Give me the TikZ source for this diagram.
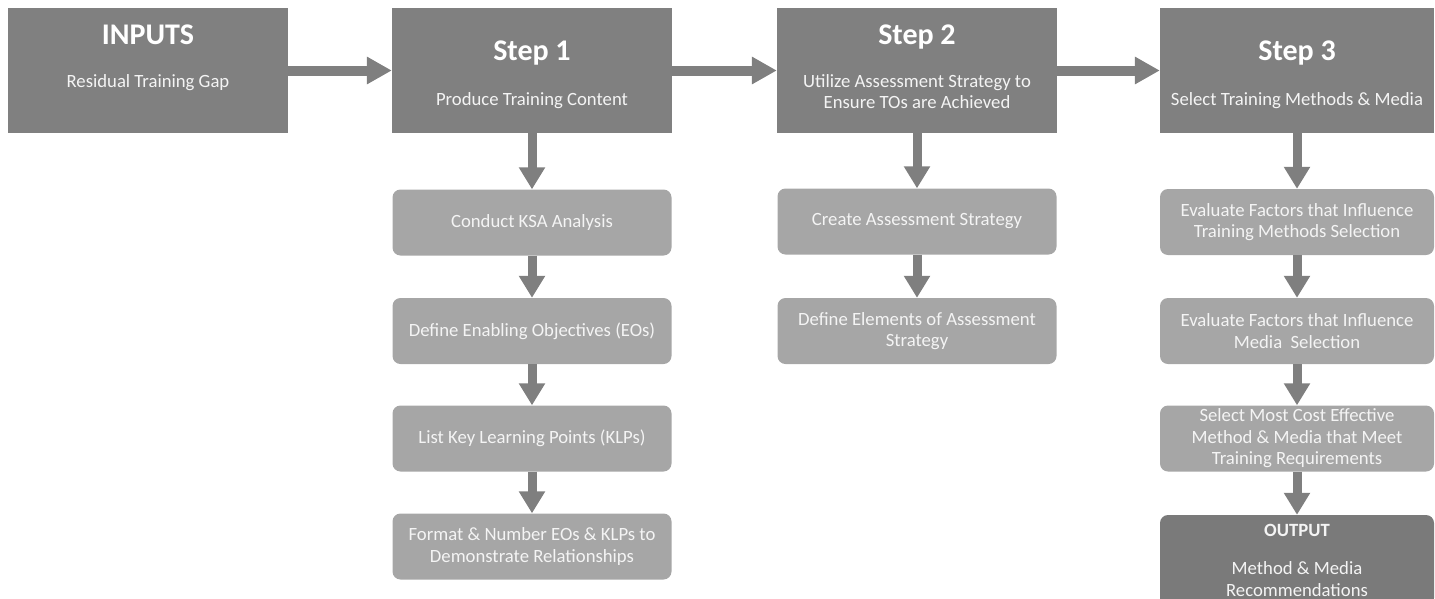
\documentclass[tikz,border=0pt]{standalone}
\usepackage{fontspec}
\setmainfont{Carlito}
\usetikzlibrary{arrows.meta}
\definecolor{hdr}{HTML}{808080}
\definecolor{subc}{HTML}{A6A6A6}
\definecolor{outc}{HTML}{7A7A7A}
\definecolor{arrc}{HTML}{7F7F7F}
\definecolor{txtc}{HTML}{F4F4F4}
\tikzset{
  hbox/.style={fill=hdr, draw=none, inner sep=0pt, minimum width=280pt, minimum height=125pt},
  sbox/.style={fill=subc, draw=none, rounded corners=8pt, inner sep=0pt, minimum width=279pt, minimum height=66pt,
    text=txtc, align=center, font=\fontsize{18.7}{21.5}\selectfont},
  obox/.style={fill=outc, draw=none, rounded corners=8pt, inner sep=0pt, minimum width=274pt, minimum height=91pt},
  ttl/.style={text=white, inner sep=0pt, font=\fontsize{30}{36}\selectfont\bfseries},
  stl/.style={text=txtc, inner sep=0pt, align=center, font=\fontsize{18.7}{21.5}\selectfont},
  harr/.style={draw=arrc, line width=10pt, -{Triangle[width=26pt,length=25pt]}},
  varr/.style={draw=arrc, line width=9pt, -{Triangle[width=25pt,length=22pt]}},
}
\begin{document}
\begin{tikzpicture}[x=1pt,y=-1pt]
\clip (0,0) rectangle (1435,598);
% header boxes
\node[hbox] (in) at (148,70.5) {};
\node[hbox] (s1) at (532,70.5) {};
\node[hbox] (s2) at (917,70.5) {};
\node[hbox, minimum width=274pt] (s3) at (1297,70.5) {};
\node[ttl] (inT) at (148,35) {INPUTS};
\node[stl] (inS) at (148,83) {Residual Training Gap};
\node[ttl] (s1T) at (532,53) {Step 1};
\node[stl] (s1S) at (532,101) {Produce Training Content};
\node[ttl] (s2T) at (917,37) {Step 2};
\node[stl] (s2S) at (917,91.5) {Utilize Assessment Strategy to\\Ensure TOs are Achieved};
\node[ttl] (s3T) at (1297,53) {Step 3};
\node[stl] (s3S) at (1297,101) {Select Training Methods \& Media};
% step 1 column
\node[sbox] (a1) at (532,222.5) {Conduct KSA Analysis};
\node[sbox] (a2) at (532,331) {Define Enabling Objectives (EOs)};
\node[sbox] (a3) at (532,438.5) {List Key Learning Points (KLPs)};
\node[sbox] (a4) at (532,546.5) {Format \& Number EOs \& KLPs to\\Demonstrate Relationships};
% step 2 column
\node[sbox] (b1) at (917,221.5) {Create Assessment Strategy};
\node[sbox] (b2) at (917,331) {Define Elements of Assessment\\Strategy};
% step 3 column
\node[sbox, minimum width=274pt] (c1) at (1297,222) {Evaluate Factors that Influence\\Training Methods Selection};
\node[sbox, minimum width=274pt] (c2) at (1297,331) {Evaluate Factors that Influence\\Media\ \ Selection};
\node[sbox, minimum width=274pt] (c3) at (1297,438.5) {Select Most Cost Effective\\Method \& Media that Meet\\Training Requirements};
\node[obox] (out) at (1297,560.5) {};
\node[text=txtc, inner sep=0pt, font=\fontsize{18.7}{21.5}\selectfont\bfseries] (outT) at (1297,530) {OUTPUT};
\node[stl] (outS) at (1297,579) {Method \& Media\\Recommendations};
% connectors
\draw[harr] (in) -- (s1);
\draw[harr] (s1) -- (s2);
\draw[harr] (s2) -- (s3);
\draw[varr] (s1) -- (a1);
\draw[varr] (a1) -- (a2);
\draw[varr] (a2) -- (a3);
\draw[varr] (a3) -- (a4);
\draw[varr] (s2) -- (b1);
\draw[varr] (b1) -- (b2);
\draw[varr] (s3) -- (c1);
\draw[varr] (c1) -- (c2);
\draw[varr] (c2) -- (c3);
\draw[varr] (c3) -- (out);
\end{tikzpicture}
\end{document}
